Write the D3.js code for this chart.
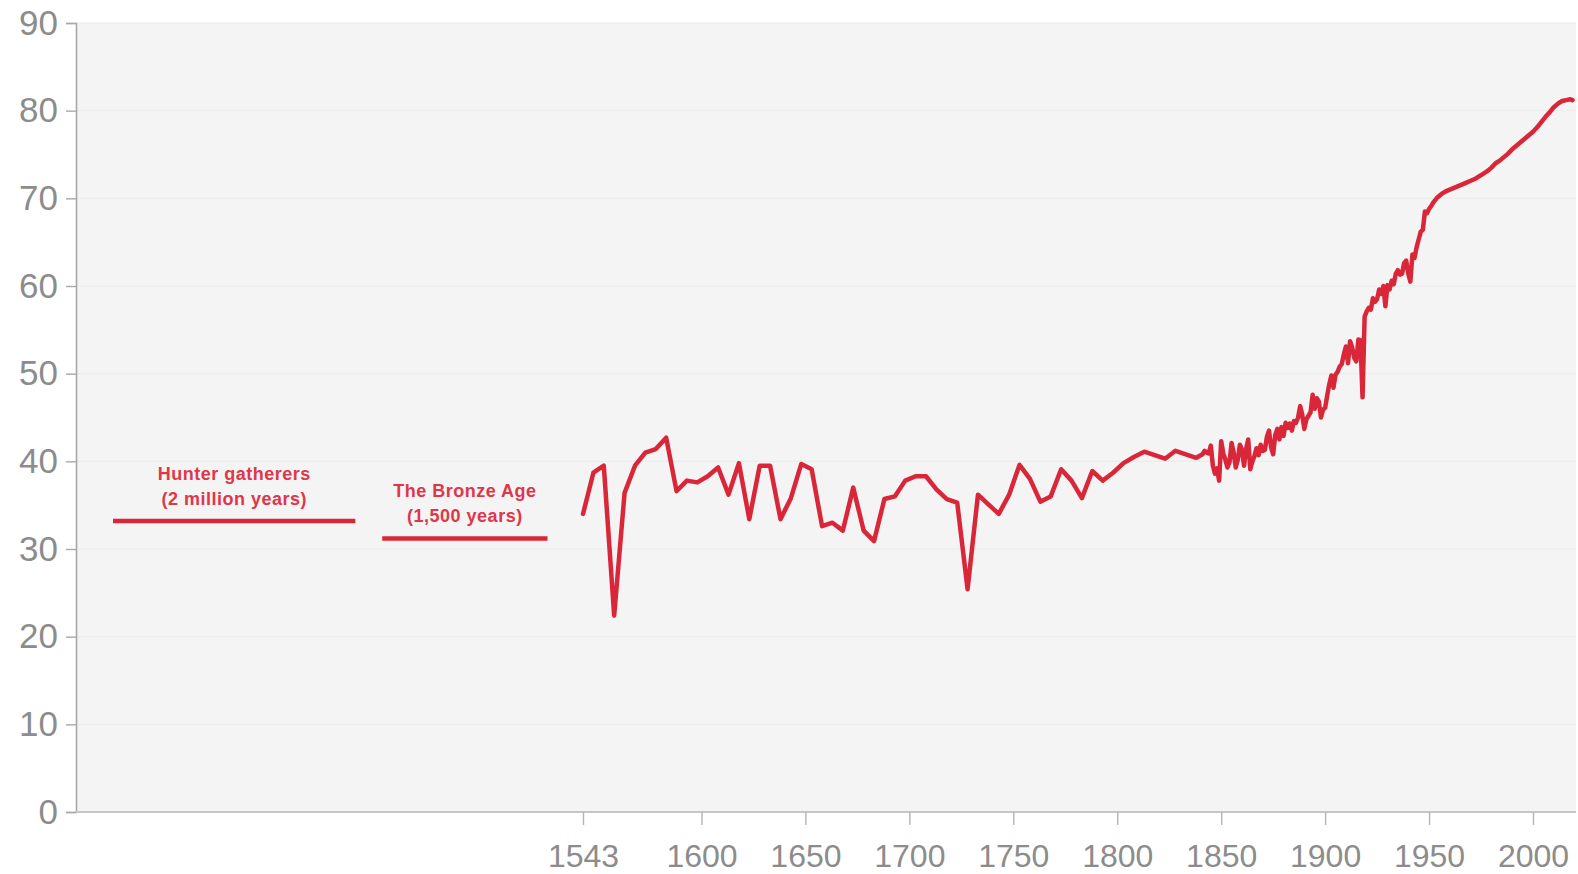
<!DOCTYPE html>
<html>
<head>
<meta charset="utf-8">
<script src="https://cdn.jsdelivr.net/npm/d3@7"></script>
<style>
  html, body { margin: 0; padding: 0; background: #ffffff; }
  svg { display: block; }
</style>
</head>
<body>
<svg id="chart" width="1578" height="874"></svg>
<script>
// Life expectancy at birth (years), England, 1543 onward
const years = [
  1543, 1548, 1553, 1558, 1563, 1568, 1573, 1578, 1583, 1588,
  1593, 1598, 1603, 1608, 1613, 1618, 1623, 1628, 1633, 1638,
  1643, 1648, 1653, 1658, 1663, 1668, 1673, 1678, 1683, 1688,
  1693, 1698, 1703, 1708, 1713, 1718, 1723, 1728, 1733, 1738,
  1743, 1748, 1753, 1758, 1763, 1768, 1773, 1778, 1783, 1788,
  1793, 1798, 1803, 1808, 1813, 1818, 1823, 1828, 1833, 1838,
  1841, 1842, 1843, 1844, 1845, 1846, 1847, 1848, 1849, 1850,
  1851, 1852, 1853, 1854, 1855, 1856, 1857, 1858, 1859, 1860,
  1861, 1862, 1863, 1864, 1865, 1866, 1867, 1868, 1869, 1870,
  1871, 1872, 1873, 1874, 1875, 1876, 1877, 1878, 1879, 1880,
  1881, 1882, 1883, 1884, 1885, 1886, 1887, 1888, 1889, 1890,
  1891, 1892, 1893, 1894, 1895, 1896, 1897, 1898, 1899, 1900,
  1901, 1902, 1903, 1904, 1905, 1906, 1907, 1908, 1909, 1910,
  1911, 1912, 1913, 1914, 1915, 1916, 1917, 1918, 1919, 1920,
  1921, 1922, 1923, 1924, 1925, 1926, 1927, 1928, 1929, 1930,
  1931, 1932, 1933, 1934, 1935, 1936, 1937, 1938, 1939, 1940,
  1941, 1942, 1943, 1944, 1945, 1946, 1947, 1948, 1949, 1950,
  1951, 1952, 1954, 1956, 1958, 1960, 1962, 1964, 1966, 1968,
  1970, 1972, 1974, 1976, 1978, 1980, 1982, 1984, 1986, 1988,
  1990, 1992, 1994, 1996, 1998, 2000, 2002, 2004, 2006, 2008,
  2010, 2012, 2014, 2016, 2018, 2019
];

const lifeExpectancy = [
  34.0, 38.7, 39.5, 22.4, 36.4, 39.5, 41.0, 41.4, 42.7, 36.6,
  37.8, 37.6, 38.3, 39.3, 36.2, 39.8, 33.4, 39.5, 39.5, 33.4,
  35.8, 39.7, 39.1, 32.6, 33.0, 32.1, 37.0, 32.1, 30.9, 35.7,
  36.0, 37.8, 38.3, 38.3, 36.8, 35.7, 35.3, 25.4, 36.2, 35.1,
  34.0, 36.2, 39.6, 38.0, 35.4, 36.0, 39.1, 37.8, 35.8, 38.9,
  37.8, 38.7, 39.8, 40.5, 41.1, 40.7, 40.3, 41.2, 40.8, 40.4,
  40.8, 41.2, 41.0, 40.9, 41.8, 39.5, 38.6, 39.2, 37.8, 42.3,
  40.9, 40.2, 39.3, 39.9, 42.1, 41.0, 39.3, 40.2, 41.9, 41.3,
  39.5, 41.4, 42.5, 39.1, 40.0, 40.6, 41.5, 40.7, 41.9, 41.2,
  41.3, 42.8, 43.5, 41.6, 40.8, 43.0, 43.7, 42.5, 43.9, 42.9,
  44.4, 43.8, 44.3, 43.5, 44.6, 44.4, 45.0, 46.3, 45.3, 43.7,
  44.8, 45.2, 45.6, 47.6, 46.0, 47.2, 46.8, 45.0, 45.9, 46.1,
  47.5, 48.8, 49.8, 48.4, 49.9, 50.2, 50.8, 51.1, 52.2, 53.1,
  51.2, 53.7, 53.0, 51.8, 51.4, 53.9, 53.8, 47.3, 56.5, 57.1,
  57.5, 57.3, 58.6, 58.2, 58.5, 59.6, 59.1, 60.0, 57.7, 60.1,
  59.6, 60.6, 60.2, 61.4, 61.8, 61.3, 61.4, 62.6, 62.9, 61.4,
  60.5, 63.6, 63.2, 64.4, 65.3, 66.2, 66.4, 68.5, 68.3, 68.8,
  69.1, 69.5, 70.1, 70.5, 70.8, 71.0, 71.2, 71.4, 71.6, 71.8,
  72.0, 72.2, 72.5, 72.8, 73.1, 73.5, 74.0, 74.3, 74.7, 75.1,
  75.6, 76.0, 76.4, 76.8, 77.2, 77.6, 78.1, 78.7, 79.3, 79.8,
  80.4, 80.8, 81.1, 81.2, 81.3, 81.2
];

// Earlier eras, shown as flat averages to the left of the timeline
const eraNames = ["Hunter gatherers", "The Bronze Age"];
const eraDurations = ["(2 million years)", "(1,500 years)"];
const eraValues = [33.2, 31.2];

const yTicks = [0, 10, 20, 30, 40, 50, 60, 70, 80, 90];
const xTicks = [1543, 1600, 1650, 1700, 1750, 1800, 1850, 1900, 1950, 2000];

// ---- layout ----
const svg = d3.select("#chart");
const plotLeft = 76, plotRight = 1576, plotTop = 23, plotBottom = 812;
const red = "#d92638";
const labelRed = "#e0364a";
const tickGrey = "#8c8c8c";

const y = d3.scaleLinear().domain([0, 90]).range([plotBottom, plotTop]);
const x = d3.scaleLinear().domain([1543, 2000]).range([583, 1533]);

// left section for the prehistoric eras, expressed as a share of the gap before 1543
const eraScale = d3.scaleLinear().domain([0, 1]).range([plotLeft, x(1543)]);
const eraSpans = [[0.073, 0.551], [0.604, 0.93]];

// plot background
svg.append("rect")
  .attr("x", plotLeft).attr("y", plotTop)
  .attr("width", plotRight - plotLeft).attr("height", plotBottom - plotTop)
  .attr("fill", "#f4f4f4");

// faint horizontal gridlines
svg.append("g")
  .selectAll("line")
  .data(yTicks.filter(d => d > 0))
  .join("line")
  .attr("x1", plotLeft).attr("x2", plotRight)
  .attr("y1", d => y(d)).attr("y2", d => y(d))
  .attr("stroke", "#ececec").attr("stroke-width", 1.2);

// y axis
const yAxis = svg.append("g")
  .attr("transform", `translate(${plotLeft},0)`)
  .call(d3.axisLeft(y).tickValues(yTicks).tickSize(10).tickPadding(8).tickFormat(d3.format("d")));
yAxis.select(".domain").attr("stroke", "#a8a8a8").attr("stroke-width", 1.6);
yAxis.selectAll(".tick line").attr("stroke", "#a8a8a8").attr("stroke-width", 1.4);
yAxis.selectAll(".tick text")
  .attr("fill", tickGrey)
  .style("font-family", "'Liberation Sans', Arial, sans-serif")
  .style("font-size", "35px");

// x axis
const xAxis = svg.append("g")
  .attr("transform", `translate(0,${plotBottom})`)
  .call(d3.axisBottom(x).tickValues(xTicks).tickSize(13).tickPadding(19).tickFormat(d3.format("d")));
xAxis.select(".domain")
  .attr("d", `M${plotLeft},0H${plotRight}`)
  .attr("stroke", "#c6c6c6").attr("stroke-width", 2.2);
xAxis.selectAll(".tick line").attr("stroke", "#b4b4b4").attr("stroke-width", 1.4);
xAxis.selectAll(".tick text")
  .attr("fill", tickGrey)
  .style("font-family", "'Liberation Sans', Arial, sans-serif")
  .style("font-size", "32px");

// era bars and labels
const eras = eraNames.map((name, i) => ({
  name, duration: eraDurations[i], value: eraValues[i], span: eraSpans[i]
}));
const eraMid = d => (eraScale(d.span[0]) + eraScale(d.span[1])) / 2;

svg.append("g")
  .selectAll("line")
  .data(eras)
  .join("line")
  .attr("x1", d => eraScale(d.span[0]))
  .attr("x2", d => eraScale(d.span[1]))
  .attr("y1", d => y(d.value))
  .attr("y2", d => y(d.value))
  .attr("stroke", red).attr("stroke-width", 4.5);

const eraText = svg.append("g")
  .selectAll("text")
  .data(eras)
  .join("text")
  .attr("text-anchor", "middle")
  .attr("fill", labelRed)
  .style("font-family", "'Liberation Sans', Arial, sans-serif")
  .style("font-size", "18px")
  .style("font-weight", "bold")
  .style("letter-spacing", "0.5px")
  .attr("x", eraMid)
  .attr("y", d => y(d.value) - 41);
eraText.append("tspan")
  .attr("x", eraMid)
  .text(d => d.name);
eraText.append("tspan")
  .attr("x", eraMid)
  .attr("dy", 25)
  .text(d => d.duration);

// main series
const series = years.map((yr, i) => ({ year: yr, value: lifeExpectancy[i] }));
svg.append("path")
  .datum(series)
  .attr("fill", "none")
  .attr("stroke", red)
  .attr("stroke-width", 4.5)
  .attr("stroke-linejoin", "round")
  .attr("stroke-linecap", "round")
  .attr("d", d3.line().x(d => x(d.year)).y(d => y(d.value)));
</script>
</body>
</html>
